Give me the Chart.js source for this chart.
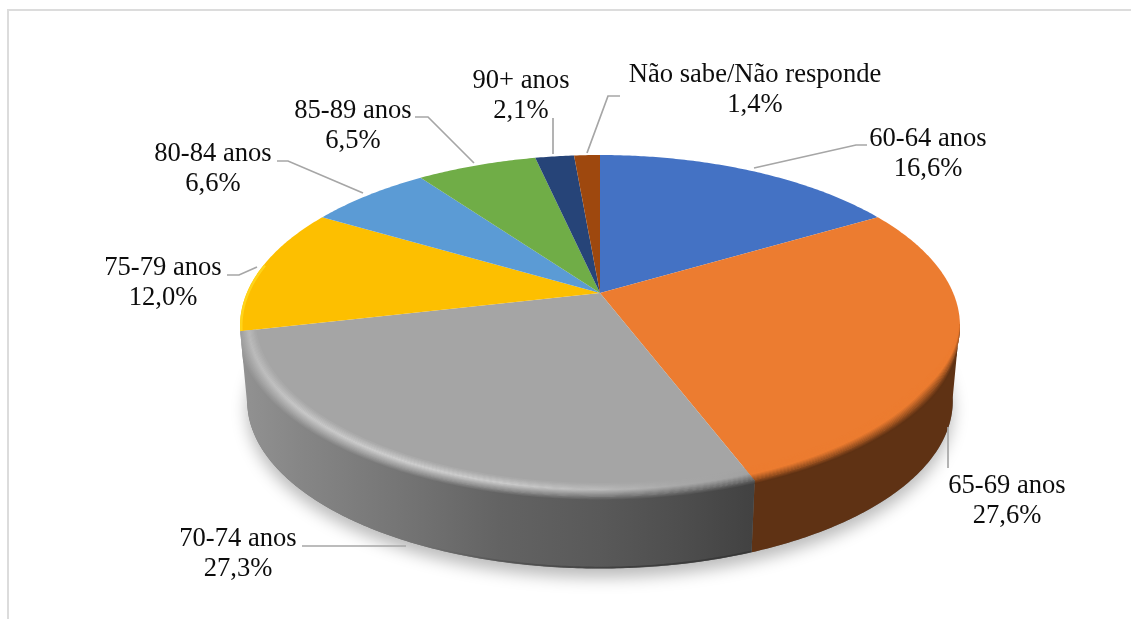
<!DOCTYPE html>
<html><head><meta charset="utf-8">
<style>html,body{margin:0;padding:0;background:#fff;overflow:hidden}canvas{display:block}</style>
<script src="https://cdn.jsdelivr.net/npm/chart.js@4"></script></head>
<body><canvas id="c" width="1131" height="619"></canvas>
<script>
const categories = ["60-64 anos","65-69 anos","70-74 anos","75-79 anos","80-84 anos","85-89 anos","90+ anos","Não sabe/Não responde"];
const shares = [16.6,27.6,27.3,12.0,6.6,6.5,2.1,1.4];
const sliceColors = ["#4472c4","#ec7c30","#a5a5a5","#fdbf00","#5b9bd5","#70ad47","#264478","#9e480e"];

// label anchors: [centre x, first baseline]
const labelAnchors = [[928,146],[1007,493],[238,546],[163,275],[213,161],[353,118],[521,88],[755,82]];
const leaderPaths = [
 [[754,168],[856,145],[867,145]],
 [[948,427],[948,468]],
 [[302,546],[406,546]],
 [[227,275],[239,275],[257,267]],
 [[277,161],[288,161],[363,193]],
 [[415,117],[428,117],[474,163]],
 [[553,118],[553,154]],
 [[620,96],[608,96],[587,153]]
];

// tilted disc projection
const CX=600, AY=293, A=353.2, B=164.6, K=0.193, EC=326;
function topPt(th){const X=Math.sin(th),Y=-Math.cos(th),w=1-K*Y;return [CX+A*X/w,AY+B*Y/w];}
function botPt(th){const p=topPt(th);return [CX+(p[0]-CX)*0.98,401+(p[1]-EC)*0.98];}
function lerpP(th,t){const a=topPt(th),b=botPt(th);return [a[0]+(b[0]-a[0])*t,a[1]+(b[1]-a[1])*t];}
function radial(th,s){
  const p=topPt(th),f=0.42+0.58*Math.max(0,-Math.cos(th));
  return [p[0]+(p[0]-CX)*s*f,p[1]+(p[1]-EC)*s*f];
}
function sweep(a,b){const n=Math.max(2,Math.ceil(Math.abs(b-a)/0.01));const r=[];for(let i=0;i<=n;i++)r.push(a+(b-a)*i/n);return r;}
function hex(c){return [parseInt(c.slice(1,3),16),parseInt(c.slice(3,5),16),parseInt(c.slice(5,7),16)];}
function mix(a,b,t){return a.map((v,i)=>v+(b[i]-v)*t);}
function rgb(c){return `rgb(${c.map(v=>Math.round(v)).join(',')})`;}

const grayStops=[[240,"#929292","#b8b8b8"],[300,"#868686","#c8c8c8"],[400,"#757575","#cfcfcf"],[500,"#636363","#cccccc"],[600,"#595959","#bbbbbb"],[680,"#4e4e4e","#a8a8a8"],[752,"#424242","#a0a0a0"]];
const WALL="#5f3214", S0=-0.08, S1=0.02;

function polyBetween(ctx,ths,f,g){
  ths.forEach((th,i)=>{const p=f(th);i?ctx.lineTo(p[0],p[1]):ctx.moveTo(p[0],p[1]);});
  ths.slice().reverse().forEach(th=>{const p=g(th);ctx.lineTo(p[0],p[1]);});
  ctx.closePath();
}
function facePath(ctx,a){
  ctx.moveTo(CX,AY);
  sweep(a[0],a[1]).forEach(th=>{const p=topPt(th);ctx.lineTo(p[0],p[1]);});
  ctx.closePath();
}

const disc3d={
  id:'disc3d',
  beforeDatasetsDraw(chart){
    const ctx=chart.ctx, arcs=chart.getDatasetMeta(0).data;
    const ang=arcs.map(a=>[a.startAngle+Math.PI/2,a.endAngle+Math.PI/2]);
    const fr=Math.PI*100/180, orangeEnd=ang[1][1], grayEnd=ang[2][1];
    const G=(v)=>{const g=ctx.createLinearGradient(240,0,752,0);grayStops.forEach(s=>g.addColorStop((s[0]-240)/512,v(s)));return g;};

    // frame
    ctx.save();ctx.strokeStyle="#dcdcdc";ctx.lineWidth=2;
    ctx.beginPath();ctx.moveTo(8,619);ctx.lineTo(8,10);ctx.lineTo(1131,10);ctx.stroke();ctx.restore();

    // soft ground shadow
    ctx.save();
    ctx.shadowColor="rgba(0,0,0,0.27)";ctx.shadowBlur=16;ctx.shadowOffsetY=9;
    ctx.fillStyle="#777";ctx.beginPath();
    sweep(0,Math.PI*2).forEach((th,i)=>{const p=botPt(th);i?ctx.lineTo(p[0],p[1]):ctx.moveTo(p[0],p[1]);});
    ctx.closePath();ctx.fill();ctx.restore();
    ctx.fillStyle="#fff";ctx.beginPath();
    sweep(0,Math.PI*2).forEach((th,i)=>{const p=topPt(th);i?ctx.lineTo(p[0],p[1]):ctx.moveTo(p[0],p[1]);});
    ctx.closePath();ctx.fill();

    // walls
    const wallO=sweep(fr,orangeEnd), wallG=sweep(orangeEnd,grayEnd);
    ctx.fillStyle=WALL;ctx.beginPath();polyBetween(ctx,wallO,topPt,botPt);ctx.fill();
    ctx.fillStyle=G(s=>s[1]);ctx.beginPath();polyBetween(ctx,wallG,topPt,botPt);ctx.fill();
    // dark lower lip of the grey wall, fading to the left
    ctx.save();
    const lip=ctx.createLinearGradient(420,0,620,0);lip.addColorStop(0,"rgba(45,45,45,0)");lip.addColorStop(1,"rgba(45,45,45,0.55)");
    ctx.strokeStyle=lip;ctx.lineWidth=1.6;ctx.beginPath();
    sweep(orangeEnd,grayEnd-0.5).forEach((th,i)=>{const p=lerpP(th,0.985);i?ctx.lineTo(p[0],p[1]):ctx.moveTo(p[0],p[1]);});ctx.stroke();ctx.restore();

    // top faces
    ang.forEach((a,i)=>{ctx.fillStyle=sliceColors[i];ctx.beginPath();facePath(ctx,a);ctx.fill();});

    // bevel bands, outermost first, each overlapped by the next so no seams show
    const n=18,F=hex(sliceColors[2]),O=hex(sliceColors[1]),W=hex(WALL),eps=0.002;
    const taper=th=>Math.min(1,Math.max(0,(th-fr)/0.4));
    // orange
    ctx.save();ctx.beginPath();facePath(ctx,ang[1]);polyBetween(ctx,wallO,topPt,botPt);ctx.clip();
    const thO=sweep(fr,orangeEnd+0.1);
    for(let i=n;i>=1;i--){
      const u=i/n,s=S0+(S1-S0)*u,s2=S0+(S1-S0)*(i-1)/n-eps;
      ctx.fillStyle=rgb(u<.45?O:mix(O,W,(u-.45)/.55));
      ctx.beginPath();polyBetween(ctx,thO,th=>radial(th,s*taper(th)),th=>radial(th,s2*taper(th)));ctx.fill();
    }
    ctx.restore();
    // grey
    ctx.save();ctx.beginPath();facePath(ctx,ang[2]);polyBetween(ctx,wallG,topPt,botPt);ctx.clip();
    const thG=sweep(orangeEnd-0.1,grayEnd+0.1);
    for(let i=n;i>=1;i--){
      const u=i/n,s=S0+(S1-S0)*u,s2=S0+(S1-S0)*(i-1)/n-eps;
      ctx.fillStyle=G(c=>{const w=hex(c[1]),h=hex(c[2]);
        return rgb(u<.4?mix(F,h,u/.4):mix(h,w,(u-.4)/.6));});
      ctx.beginPath();polyBetween(ctx,thG,th=>radial(th,s),th=>radial(th,s2));ctx.fill();
    }
    ctx.restore();

    // pale rim on the yellow slice
    ctx.save();ctx.beginPath();facePath(ctx,ang[3]);ctx.clip();
    ctx.strokeStyle="#ffd41a";ctx.lineWidth=5;ctx.beginPath();
    sweep(ang[3][0],ang[3][1]-0.35).forEach((th,i)=>{const p=topPt(th);i?ctx.lineTo(p[0],p[1]):ctx.moveTo(p[0],p[1]);});ctx.stroke();ctx.restore();

    // leader lines
    ctx.save();ctx.strokeStyle="#a6a6a6";ctx.lineWidth=1.7;
    leaderPaths.forEach(path=>{ctx.beginPath();path.forEach((p,i)=>i?ctx.lineTo(p[0],p[1]):ctx.moveTo(p[0],p[1]));ctx.stroke();});
    ctx.restore();

    // labels
    ctx.save();ctx.fillStyle="#0d0d0d";ctx.font='26.6px "Liberation Serif"';ctx.textAlign="center";ctx.textBaseline="alphabetic";
    categories.forEach((name,i)=>{
      const a=labelAnchors[i];
      ctx.fillText(name,a[0],a[1]);
      ctx.fillText(shares[i].toFixed(1).replace('.',',')+'%',a[0],a[1]+30);
    });
    ctx.restore();
    return false;
  }
};

new Chart(document.getElementById('c'),{
  type:'pie',
  data:{labels:categories,datasets:[{data:shares,backgroundColor:sliceColors,borderWidth:0}]},
  options:{responsive:false,animation:false,rotation:0,
    plugins:{legend:{display:false},title:{display:false},tooltip:{enabled:false}}},
  plugins:[disc3d]
});
</script></body></html>
